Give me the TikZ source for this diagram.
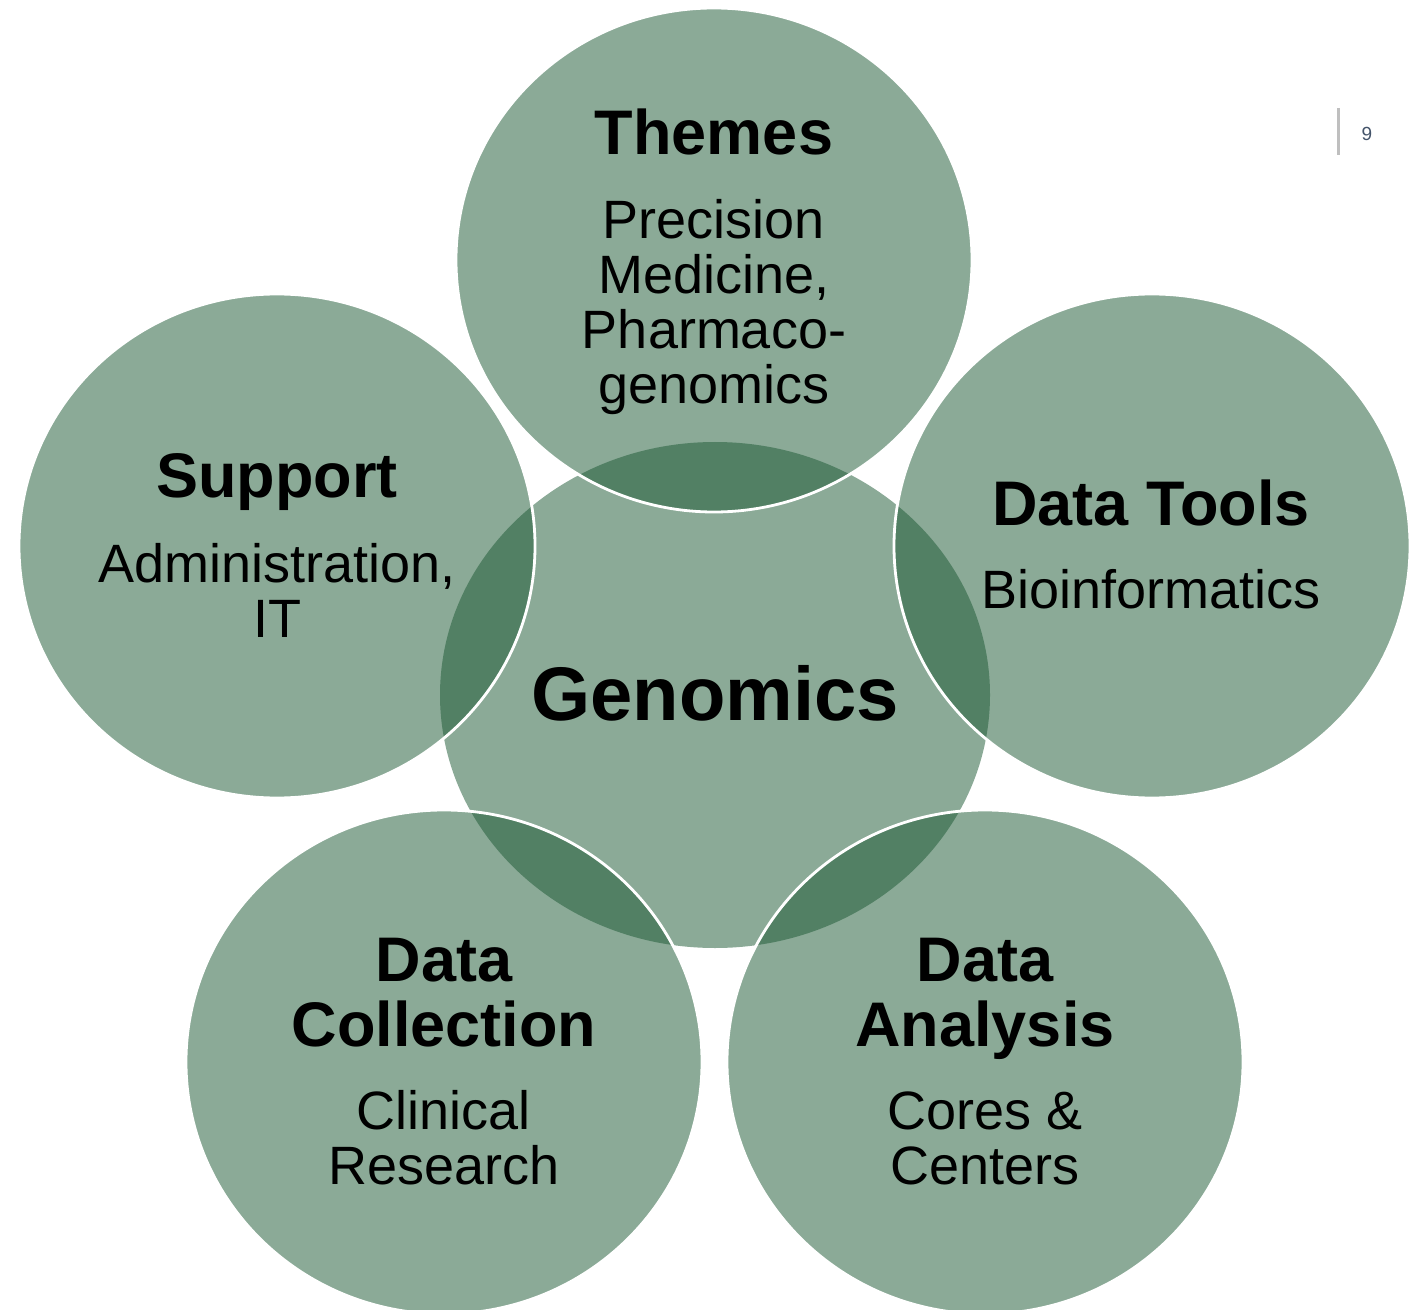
\documentclass[tikz,border=0pt]{standalone}
\usepackage{fontspec}
\setmainfont{Liberation Sans}

\definecolor{leafgreen}{RGB}{139,170,151}
\definecolor{deepgreen}{RGB}{82,128,100}
\definecolor{numgray}{RGB}{68,84,106}
\definecolor{rulegray}{RGB}{191,191,191}

\begin{document}
\begin{tikzpicture}[x=0.5pt,y=-0.5pt,
    headtxt/.style={anchor=base, align=center,
                    font=\fontsize{31.5}{32.5}\selectfont\bfseries},
    bodytxt/.style={anchor=base, align=center,
                    font=\fontsize{27}{27.5}\selectfont},
    hubtxt/.style={anchor=base, font=\fontsize{38}{40}\selectfont\bfseries},
    ring/.style={x radius=129pt, y radius=126pt},
    hub/.style={x radius=137.5pt, y radius=126.5pt}]

    \useasboundingbox (0,0) rectangle (1419,1310);

    % centres of the circles
    \coordinate (genomics) at (715,695);
    \coordinate (themes)   at (714,260);
    \coordinate (support)  at (277,546);
    \coordinate (tools)    at (1152,546);
    \coordinate (collect)  at (444,1062);
    \coordinate (analysis) at (985,1062);

    \fill[leafgreen] (genomics) ellipse [hub];
    \foreach \c in {themes,support,tools,collect,analysis}
        \fill[leafgreen] (\c) ellipse [ring];

    % overlaps with the hub
    \foreach \c in {themes,support,tools,collect,analysis}{
        \begin{scope}
            \clip (\c) ellipse [ring];
            \fill[deepgreen] (genomics) ellipse [hub];
        \end{scope}
    }
    \foreach \c in {themes,support,tools,collect,analysis}
        \draw[white, line width=1.4pt] (\c) ellipse [ring];

    % labels (base = last line)
    \node[hubtxt] (genomicsT) at (715,720) {Genomics};

    \node[headtxt] (themesT) at (714,155) {Themes};
    \node[bodytxt] (themesB) at (714,404)
        {Precision\\Medicine,\\Pharmaco-\\genomics};

    \node[headtxt] (supportT) at (277,497) {Support};
    \node[bodytxt] (supportB) at (277,637) {Administration,\\IT};

    \node[headtxt] (toolsT) at (1151,525) {Data Tools};
    \node[bodytxt] (toolsB) at (1151,608) {Bioinformatics};

    \node[headtxt] (collectT) at (444,1046) {Data\\Collection};
    \node[bodytxt] (collectB) at (444,1184) {Clinical\\Research};

    \node[headtxt] (analysisT) at (985,1046) {Data\\Analysis};
    \node[bodytxt] (analysisB) at (985,1184) {Cores \&\\Centers};

    % page number
    \node[text=numgray, font=\fontsize{9.5}{10}\selectfont] (pnum) at (1367,134) {9};
    \draw[rulegray, line width=1.5pt] (1338,108) -- (1338,155);

\end{tikzpicture}
\end{document}
